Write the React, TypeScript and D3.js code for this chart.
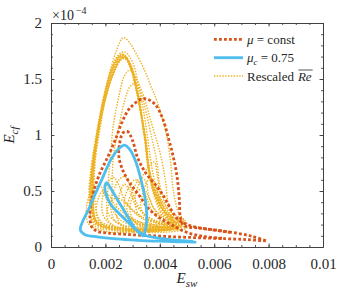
import React, { useEffect, useRef } from "react";
import * as d3 from "d3";

type Pt = [number, number];

// ticks (E_cf is shown in units of 1e-4)
const xTickValues = [0, 0.002, 0.004, 0.006, 0.008, 0.01];
const yTickValues = [0, 0.5, 1, 1.5, 2];

// mu = const : orbit, two passes (E_sw, E_cf/1e-4)
const muConstPassA: Pt[] = [
  [0.0079, 0.055], [0.0072, 0.066], [0.0064, 0.074], [0.0055, 0.082], [0.0046, 0.09],
  [0.0037, 0.1], [0.0028, 0.112], [0.0021, 0.124], [0.0017, 0.14], [0.0015, 0.18],
  [0.00143, 0.27], [0.0015, 0.43], [0.00175, 0.63], [0.00212, 0.82], [0.0024, 0.98],
  [0.00262, 1.12], [0.0029, 1.24], [0.0034, 1.325], [0.0038, 1.28], [0.0041, 1.15],
  [0.00432, 0.97], [0.0045, 0.8], [0.00464, 0.62], [0.00472, 0.42], [0.00476, 0.26],
  [0.0049, 0.19], [0.0054, 0.17], [0.0061, 0.15], [0.0068, 0.125], [0.0074, 0.095],
  [0.0079, 0.055],
];
const muConstPassB: Pt[] = [
  [0.0066, 0.13], [0.0058, 0.158], [0.0052, 0.185], [0.0047, 0.24], [0.0044, 0.34],
  [0.00415, 0.45], [0.0039, 0.54], [0.0035, 0.655], [0.00318, 0.8], [0.003, 0.95],
  [0.00282, 1.03], [0.00265, 1.02], [0.00252, 0.92], [0.0025, 0.8], [0.00265, 0.68],
  [0.0029, 0.57], [0.00327, 0.45], [0.0036, 0.34], [0.004, 0.26], [0.0045, 0.19],
  [0.005, 0.13], [0.0056, 0.095], [0.0063, 0.078],
];

// mu_c = 0.75
const muC075: Pt[] = [
  [0.0053, 0.043], [0.0047, 0.047], [0.004, 0.052], [0.0032, 0.06], [0.0024, 0.072],
  [0.0017, 0.09], [0.00125, 0.11], [0.00108, 0.15], [0.00115, 0.22], [0.00135, 0.32],
  [0.0016, 0.46], [0.0019, 0.62], [0.0022, 0.78], [0.0025, 0.88], [0.0027, 0.91],
  [0.0029, 0.87], [0.00312, 0.76], [0.00333, 0.58], [0.00348, 0.4], [0.00352, 0.25],
  [0.00346, 0.14], [0.0034, 0.1], [0.00322, 0.13], [0.003, 0.2], [0.00275, 0.3],
  [0.00245, 0.42], [0.00218, 0.53], [0.00205, 0.575], [0.00198, 0.54], [0.00204, 0.46],
  [0.0022, 0.38], [0.0025, 0.3], [0.0028, 0.23], [0.0031, 0.16], [0.0034, 0.11],
  [0.0038, 0.085], [0.0043, 0.068], [0.0048, 0.056], [0.0052, 0.05],
];

// Rescaled Re : tall loops (dense band)
const rescaledTall: Pt[][] = [
  [[0.0046, 0.18], [0.0035, 0.15], [0.0024, 0.16], [0.0017, 0.2], [0.00145, 0.4], [0.0015, 0.7],
   [0.0017, 1.0], [0.0019, 1.3], [0.0022, 1.56], [0.0025, 1.7], [0.0027, 1.71], [0.0029, 1.62],
   [0.0031, 1.44], [0.0033, 1.2], [0.0035, 0.95], [0.0036, 0.7], [0.0038, 0.48], [0.0041, 0.3]],
  [[0.0048, 0.2], [0.0036, 0.14], [0.0025, 0.15], [0.0016, 0.19], [0.0014, 0.42], [0.00148, 0.72],
   [0.00168, 1.02], [0.00192, 1.32], [0.0022, 1.58], [0.0025, 1.72], [0.00272, 1.74], [0.003, 1.65],
   [0.0032, 1.46], [0.0034, 1.22], [0.00355, 0.98], [0.0037, 0.72], [0.0039, 0.5], [0.0042, 0.32]],
  [[0.0045, 0.2], [0.0034, 0.16], [0.0023, 0.18], [0.0018, 0.24], [0.0016, 0.45], [0.00162, 0.75],
   [0.0018, 1.05], [0.002, 1.32], [0.0023, 1.55], [0.0026, 1.68], [0.00275, 1.69], [0.003, 1.59],
   [0.0032, 1.39], [0.00335, 1.16], [0.0035, 0.91], [0.0036, 0.67], [0.0038, 0.45], [0.0041, 0.28]],
  [[0.0047, 0.19], [0.0036, 0.15], [0.0024, 0.17], [0.00165, 0.21], [0.0015, 0.42], [0.00155, 0.72],
   [0.0017, 1.02], [0.00195, 1.31], [0.00225, 1.56], [0.00252, 1.69], [0.00268, 1.7], [0.00292, 1.6],
   [0.00315, 1.42], [0.00332, 1.19], [0.00348, 0.94], [0.0036, 0.7], [0.0039, 0.47], [0.0043, 0.29]],
  [[0.0045, 0.17], [0.0034, 0.14], [0.0023, 0.15], [0.00168, 0.22], [0.00152, 0.44], [0.00158, 0.74],
   [0.00176, 1.04], [0.002, 1.33], [0.0023, 1.55], [0.00256, 1.67], [0.00273, 1.68], [0.00297, 1.58],
   [0.00317, 1.39], [0.00335, 1.16], [0.0035, 0.91], [0.00362, 0.68], [0.00385, 0.46], [0.0042, 0.29]],
  [[0.0049, 0.21], [0.0037, 0.16], [0.0025, 0.17], [0.0016, 0.21], [0.00142, 0.4], [0.0015, 0.7],
   [0.00167, 1.0], [0.00192, 1.3], [0.0022, 1.56], [0.00247, 1.7], [0.00264, 1.72], [0.00287, 1.64],
   [0.00308, 1.46], [0.00328, 1.23], [0.00345, 0.97], [0.00358, 0.72], [0.0038, 0.5], [0.0042, 0.31]],
  [[0.0046, 0.2], [0.0035, 0.16], [0.0024, 0.18], [0.0017, 0.23], [0.00155, 0.43], [0.0016, 0.73],
   [0.00175, 1.03], [0.002, 1.32], [0.0023, 1.56], [0.00255, 1.68], [0.0027, 1.7], [0.00293, 1.61],
   [0.00313, 1.42], [0.0033, 1.18], [0.00346, 0.92], [0.00358, 0.69], [0.0038, 0.47], [0.0042, 0.3]],
  [[0.0047, 0.18], [0.0036, 0.15], [0.0025, 0.16], [0.0017, 0.21], [0.00148, 0.41], [0.00153, 0.71],
   [0.00172, 1.01], [0.00197, 1.31], [0.00227, 1.56], [0.00254, 1.69], [0.0027, 1.71], [0.00294, 1.62],
   [0.00314, 1.43], [0.00331, 1.2], [0.00347, 0.95], [0.00359, 0.71], [0.00382, 0.48], [0.0042, 0.3]],
  [[0.0048, 0.19], [0.0037, 0.15], [0.0025, 0.16], [0.0017, 0.2], [0.00146, 0.41], [0.00152, 0.71],
   [0.0017, 1.01], [0.00194, 1.31], [0.00224, 1.57], [0.00251, 1.7], [0.00267, 1.72], [0.0029, 1.63],
   [0.0031, 1.44], [0.00329, 1.21], [0.00346, 0.96], [0.00359, 0.72], [0.00384, 0.49], [0.0043, 0.31]],
  [[0.0046, 0.19], [0.0035, 0.15], [0.0024, 0.17], [0.0017, 0.22], [0.00153, 0.42], [0.00157, 0.72],
   [0.00174, 1.02], [0.00199, 1.31], [0.00229, 1.55], [0.00257, 1.68], [0.00272, 1.69], [0.00296, 1.59],
   [0.00316, 1.4], [0.00333, 1.17], [0.00349, 0.93], [0.0036, 0.69], [0.00386, 0.47], [0.0042, 0.29]],
  // highest loop
  [[0.005, 0.2], [0.0038, 0.15], [0.0026, 0.16], [0.0017, 0.22], [0.00155, 0.45], [0.0016, 0.8],
   [0.0018, 1.15], [0.0021, 1.5], [0.0024, 1.75], [0.00266, 1.87], [0.0029, 1.82], [0.0031, 1.74],
   [0.0034, 1.6], [0.0037, 1.42], [0.0039, 1.3], [0.00425, 1.0], [0.0044, 0.75], [0.0045, 0.5], [0.0047, 0.3]],
  // inner loops with narrower left side
  [[0.0044, 0.2], [0.0034, 0.18], [0.0026, 0.2], [0.0021, 0.3], [0.0021, 0.55], [0.0022, 0.85],
   [0.0023, 1.1], [0.0025, 1.35], [0.0027, 1.53], [0.0029, 1.58], [0.0031, 1.52], [0.0034, 1.35],
   [0.0037, 1.1], [0.004, 0.85], [0.0042, 0.6], [0.0043, 0.4], [0.00445, 0.28]],
  [[0.0045, 0.22], [0.0035, 0.2], [0.0027, 0.22], [0.0023, 0.32], [0.00225, 0.55], [0.0023, 0.82],
   [0.0025, 1.08], [0.0027, 1.3], [0.0029, 1.43], [0.0031, 1.46], [0.0033, 1.38], [0.0035, 1.2],
   [0.0037, 0.98], [0.0039, 0.75], [0.004, 0.55], [0.0042, 0.38], [0.0044, 0.28]],
];

// Rescaled Re : small loops in the lower cluster
const rescaledSmall: Pt[][] = [
  [[0.004, 0.18], [0.003, 0.16], [0.0022, 0.2], [0.0019, 0.3], [0.0019, 0.45], [0.0021, 0.58],
   [0.0023, 0.62], [0.0025, 0.55], [0.0027, 0.42], [0.0031, 0.3], [0.0036, 0.22]],
  [[0.0042, 0.2], [0.0032, 0.17], [0.0024, 0.22], [0.0022, 0.35], [0.0023, 0.5], [0.0025, 0.6],
   [0.0027, 0.63], [0.0029, 0.55], [0.0031, 0.42], [0.0034, 0.3], [0.0038, 0.24]],
  [[0.0044, 0.18], [0.0034, 0.2], [0.0028, 0.28], [0.0027, 0.42], [0.0029, 0.55], [0.0031, 0.6],
   [0.0033, 0.55], [0.0035, 0.45], [0.0037, 0.33], [0.004, 0.24]],
  [[0.0046, 0.2], [0.0038, 0.22], [0.0032, 0.3], [0.0031, 0.45], [0.0033, 0.6], [0.0036, 0.72],
   [0.0038, 0.76], [0.0039, 0.65], [0.004, 0.48], [0.0042, 0.32]],
  [[0.0043, 0.16], [0.003, 0.13], [0.002, 0.14], [0.0014, 0.2], [0.0013, 0.35], [0.0015, 0.5],
   [0.0018, 0.55], [0.002, 0.45], [0.0024, 0.32], [0.003, 0.24], [0.0037, 0.2]],
  [[0.005, 0.17], [0.004, 0.15], [0.0032, 0.2], [0.0028, 0.32], [0.003, 0.5], [0.0033, 0.62],
   [0.0035, 0.58], [0.0036, 0.45], [0.0039, 0.3], [0.0044, 0.22]],
  [[0.0047, 0.15], [0.0036, 0.13], [0.0026, 0.16], [0.0021, 0.24], [0.0021, 0.36], [0.0024, 0.44],
   [0.0027, 0.4], [0.003, 0.33], [0.0034, 0.26], [0.0041, 0.2]],
  [[0.0049, 0.24], [0.0041, 0.22], [0.0035, 0.26], [0.0033, 0.36], [0.0034, 0.5], [0.0036, 0.6],
   [0.0038, 0.56], [0.004, 0.44], [0.0043, 0.34], [0.0046, 0.28]],
  [[0.0045, 0.17], [0.0035, 0.15], [0.0026, 0.19], [0.0024, 0.3], [0.0025, 0.46], [0.0027, 0.56],
   [0.0029, 0.5], [0.0031, 0.38], [0.0035, 0.28], [0.004, 0.21]],
  [[0.0048, 0.2], [0.0039, 0.18], [0.0031, 0.22], [0.0029, 0.35], [0.0031, 0.48], [0.0034, 0.52],
   [0.0036, 0.44], [0.0038, 0.34], [0.0042, 0.26]],
  [[0.0041, 0.15], [0.003, 0.14], [0.0021, 0.17], [0.0017, 0.26], [0.0017, 0.4], [0.0019, 0.5],
   [0.0021, 0.47], [0.0024, 0.36], [0.0029, 0.27], [0.0035, 0.2]],
];

const red = "#D95319";
const blue = "#4DBEEE";
const orange = "#EDB120";
const axisColor = "#404040";
const serif = "'Liberation Serif', 'Times New Roman', serif";

function PhasePlot() {
  const ref: React.MutableRefObject<SVGSVGElement | null> = useRef(null);

  useEffect(() => {
    document.body.style.margin = "0";
    const svg = d3.select(ref.current);
    svg.selectAll("*").remove();

    const x = d3.scaleLinear().domain([0, 0.01]).range([51, 323]);
    const y = d3.scaleLinear().domain([0, 2]).range([247, 23]);

    const openLine = d3.line<Pt>().x(d => x(d[0])).y(d => y(d[1])).curve(d3.curveCatmullRom);
    const closedLine = d3.line<Pt>().x(d => x(d[0])).y(d => y(d[1])).curve(d3.curveCatmullRomClosed);

    // curves: orange first, then red, blue on top
    const gOr = svg.append("g").attr("fill", "none").attr("stroke", orange)
      .attr("stroke-width", 1.4).attr("stroke-dasharray", "1.4 1.4");
    rescaledTall.concat(rescaledSmall).forEach(loop => {
      gOr.append("path").attr("d", closedLine(loop));
    });

    const gRed = svg.append("g").attr("fill", "none").attr("stroke", red)
      .attr("stroke-width", 2.8).attr("stroke-dasharray", "2.8 2.2");
    [muConstPassA, muConstPassB].forEach(p => gRed.append("path").attr("d", openLine(p)));

    svg.append("path").attr("d", openLine(muC075)).attr("fill", "none")
      .attr("stroke", blue).attr("stroke-width", 2.8).attr("stroke-linejoin", "round")
      .attr("stroke-linecap", "round");

    // axes, ticks inward on all four sides
    const style = (g: any) => {
      g.select(".domain").attr("stroke", axisColor).attr("stroke-width", 0.9);
      g.selectAll(".tick line").attr("stroke", axisColor).attr("stroke-width", 0.9);
      g.selectAll("text").attr("fill", "#262626").style("font-family", serif).style("font-size", "15px");
    };
    const none = () => "";
    const xMinor = x.ticks(20);
    const yMinor = y.ticks(20);

    svg.append("g").attr("transform", `translate(0,${y(0)})`)
      .call(d3.axisBottom(x).tickValues(xMinor).tickSizeInner(-2).tickSizeOuter(0).tickFormat(none)).call(style);
    svg.append("g").attr("transform", `translate(0,${y(0)})`)
      .call(d3.axisBottom(x).tickValues(xTickValues).tickSizeInner(-3.5).tickSizeOuter(0)
        .tickPadding(11).tickFormat(d3.format("~g"))).call(style);
    svg.append("g").attr("transform", `translate(0,${y(2)})`)
      .call(d3.axisTop(x).tickValues(xMinor).tickSizeInner(-2).tickSizeOuter(0).tickFormat(none)).call(style);
    svg.append("g").attr("transform", `translate(0,${y(2)})`)
      .call(d3.axisTop(x).tickValues(xTickValues).tickSizeInner(-3.5).tickSizeOuter(0).tickFormat(none)).call(style);

    svg.append("g").attr("transform", `translate(${x(0)},0)`)
      .call(d3.axisLeft(y).tickValues(yMinor).tickSizeInner(-2).tickSizeOuter(0).tickFormat(none)).call(style);
    svg.append("g").attr("transform", `translate(${x(0)},0)`)
      .call(d3.axisLeft(y).tickValues(yTickValues).tickSizeInner(-3.5).tickSizeOuter(0)
        .tickPadding(9).tickFormat(d3.format("~g"))).call(style);
    svg.append("g").attr("transform", `translate(${x(0.01)},0)`)
      .call(d3.axisRight(y).tickValues(yMinor).tickSizeInner(-2).tickSizeOuter(0).tickFormat(none)).call(style);
    svg.append("g").attr("transform", `translate(${x(0.01)},0)`)
      .call(d3.axisRight(y).tickValues(yTickValues).tickSizeInner(-3.5).tickSizeOuter(0).tickFormat(none)).call(style);

    // exponent label
    const ex = svg.append("text").attr("x", 52).attr("y", 20).attr("fill", "#262626")
      .style("font-family", serif).style("font-size", "14px");
    ex.append("tspan").text("×10");
    ex.append("tspan").attr("dx", 2).attr("dy", -6).style("font-size", "10px").text("−4");

    // axis titles
    const xl = svg.append("text").attr("x", 187).attr("y", 283).attr("text-anchor", "middle")
      .attr("fill", "#262626").style("font-family", serif).style("font-style", "italic").style("font-size", "15px");
    xl.append("tspan").text("E");
    xl.append("tspan").attr("dy", 3.5).style("font-size", "11px").text("sw");

    const yl = svg.append("text").attr("transform", "translate(14,135) rotate(-90)").attr("text-anchor", "middle")
      .attr("fill", "#262626").style("font-family", serif).style("font-style", "italic").style("font-size", "15px");
    yl.append("tspan").text("E");
    yl.append("tspan").attr("dy", 3.5).style("font-size", "11px").text("cf");

    // legend
    const leg = svg.append("g").style("font-family", serif).style("font-size", "13px").attr("fill", "#262626");
    const rows = [39.3, 57.7, 76];
    leg.append("line").attr("x1", 214).attr("x2", 243).attr("y1", rows[0]).attr("y2", rows[0])
      .attr("stroke", red).attr("stroke-width", 2.8).attr("stroke-dasharray", "2.8 2.2");
    leg.append("line").attr("x1", 214).attr("x2", 243).attr("y1", rows[1]).attr("y2", rows[1])
      .attr("stroke", blue).attr("stroke-width", 2.8);
    leg.append("line").attr("x1", 214).attr("x2", 243).attr("y1", rows[2]).attr("y2", rows[2])
      .attr("stroke", orange).attr("stroke-width", 1.4).attr("stroke-dasharray", "1.4 1.4");

    const t1 = leg.append("text").attr("x", 247).attr("y", rows[0] + 4.5);
    t1.append("tspan").style("font-style", "italic").text("μ");
    t1.append("tspan").text(" = const");

    const t2 = leg.append("text").attr("x", 247).attr("y", rows[1] + 4.5);
    t2.append("tspan").style("font-style", "italic").text("μ");
    t2.append("tspan").style("font-style", "italic").style("font-size", "9px").attr("dy", 3).text("c");
    t2.append("tspan").attr("dy", -3).text(" = 0.75");

    const t3 = leg.append("text").attr("x", 247).attr("y", rows[2] + 4.5).text("Rescaled");
    const w3 = (t3.node() as SVGTextElement).getComputedTextLength();
    const re = leg.append("text").attr("x", 247 + w3 + 4).attr("y", rows[2] + 4.5)
      .style("font-style", "italic").text("Re");
    const wRe = (re.node() as SVGTextElement).getComputedTextLength();
    leg.append("line").attr("x1", 247 + w3 + 4.5).attr("x2", 247 + w3 + 4 + wRe + 1)
      .attr("y1", rows[2] - 6).attr("y2", rows[2] - 6).attr("stroke", "#262626").attr("stroke-width", 0.8);
  }, []);

  return <svg ref={ref} width={357} height={291} style={{ display: "block" }} />;
}

export default function App() {
  return <PhasePlot />;
}
